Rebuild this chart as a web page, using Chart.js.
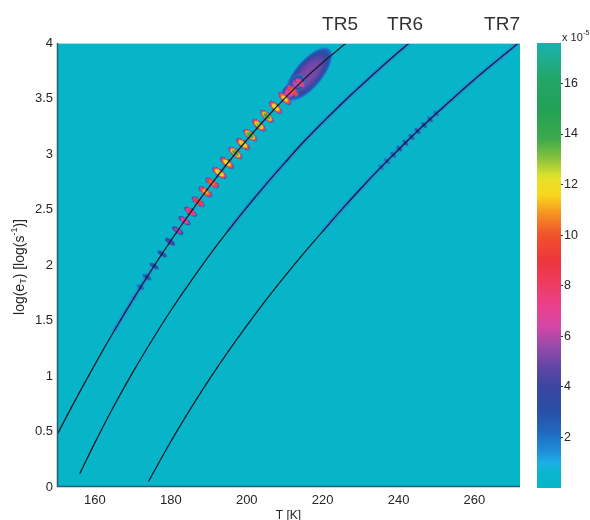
<!DOCTYPE html>
<html><head><meta charset="utf-8">
<script src="https://cdn.jsdelivr.net/npm/chart.js@4.4.1/dist/chart.umd.min.js"></script>
<style>
html,body{margin:0;padding:0;background:#fff;}
#wrap{position:relative;width:590px;height:520px;overflow:hidden;}
#main{position:absolute;left:0;top:0;}
#cbar{position:absolute;left:530px;top:0;}
</style></head><body>
<div id="wrap">
<canvas id="main" width="590" height="520"></canvas>
<canvas id="cbar" width="60" height="520"></canvas>
</div>
<script>
// ---------- data ----------
const xTicks = [160, 180, 200, 220, 240, 260];
const yTicks = [0, 0.5, 1, 1.5, 2, 2.5, 3, 3.5, 4];
const cbTicks = [2, 4, 6, 8, 10, 12, 14, 16];
const cbMax = 17.6;

const curveNames = ['TR5', 'TR6', 'TR7'];
const tr5T   = [150, 155, 160, 165, 170, 175, 180, 185, 190, 195, 200, 205, 210, 215, 220, 225.8, 227];
const tr5Log = [0.47, 0.794, 1.105, 1.403, 1.688, 1.961, 2.220, 2.466, 2.699, 2.919, 3.126, 3.320, 3.501, 3.670, 3.825, 3.988, 4.02];
const tr6T   = [156, 160, 165, 170, 175, 180, 185, 190, 195, 200, 205, 210, 215, 220, 225, 230, 235, 240, 243];
const tr6Log = [0.12, 0.40, 0.73, 1.035, 1.32, 1.59, 1.84, 2.08, 2.305, 2.519, 2.724, 2.92, 3.11, 3.285, 3.453, 3.613, 3.768, 3.918, 4.005];
const tr7T   = [174.1, 180, 185, 190, 195, 200, 205, 210, 215, 220, 225, 230, 235, 240, 245, 250, 255, 260, 265, 270, 272.5];
const tr7Log = [0.05, 0.41, 0.695, 0.963, 1.215, 1.454, 1.682, 1.898, 2.105, 2.303, 2.499, 2.687, 2.868, 3.041, 3.207, 3.367, 3.521, 3.671, 3.815, 3.956, 4.025];

// signal peaks along TR5 (value in units of 1e-5)
const hotT   = [170.2, 172.0, 173.7, 175.6, 177.7, 179.8, 181.8, 183.6, 185.2, 187.2, 189.1, 190.9, 192.8, 194.8, 197.0, 199.0, 200.9, 203.2, 205.3, 207.6, 210.0, 212.1, 214.1];
const hotLog = [1.70, 1.80, 1.89, 1.99, 2.10, 2.21, 2.31, 2.40, 2.48, 2.57, 2.66, 2.74, 2.83, 2.92, 3.01, 3.09, 3.17, 3.26, 3.34, 3.42, 3.50, 3.57, 3.64];
const hotVal = [1.6, 2.4, 3.0, 3.2, 3.6, 4.6, 6.0, 7.2, 8.6, 9.6, 11.2, 10.6, 12.8, 12.2, 14.0, 12.8, 14.2, 13.2, 14.2, 12.4, 11.8, 10.2, 8.0];
// broad plume at the top of TR5
const plumeT = [216.3];
const plumeLog = [3.72];
const plumeVal = [5.2];
const plumeCoreT = [211.4, 213.2];
const plumeCoreLog = [3.56, 3.64];
const plumeCoreVal = [7.5, 6.4];
// weak peaks along TR7 and TR6
const tr7bT   = [235.4, 237.0, 238.6, 240.2, 241.8, 243.4, 245.0, 246.7, 248.3, 249.9];
const tr7bLog = [2.882, 2.937, 2.993, 3.048, 3.101, 3.154, 3.207, 3.261, 3.312, 3.364];
const tr7bVal = [2.4, 2.8, 3.0, 3.2, 3.4, 3.4, 3.4, 3.2, 3.0, 2.6];
const tr6bT   = [221.8, 224.5];
const tr6bLog = [3.345, 3.436];
const tr6bVal = [1.8, 2.0];

// ---------- colour map ----------
const cmapStops = [
  [0.0, [8, 180, 200]], [0.7, [12, 182, 206]], [1.0, [30, 174, 232]], [1.5, [30, 140, 215]],
  [2.2, [32, 105, 190]], [3.0, [40, 80, 168]], [4.0, [58, 70, 160]], [4.8, [98, 70, 166]],
  [5.6, [150, 74, 170]], [6.4, [212, 70, 166]], [7.2, [234, 64, 140]], [8.0, [238, 60, 100]],
  [9.0, [238, 54, 60]], [10.0, [240, 82, 45]], [10.8, [245, 142, 35]], [11.6, [248, 215, 30]],
  [12.3, [226, 228, 42]], [13.0, [140, 195, 60]], [13.8, [62, 170, 76]], [15.0, [34, 160, 86]],
  [16.2, [34, 166, 104]], [17.6, [26, 178, 176]]
];
function cmap(v) {
  if (v <= cmapStops[0][0]) return cmapStops[0][1];
  for (let i = 1; i < cmapStops.length; i++) {
    const [v1, c1] = cmapStops[i];
    if (v <= v1) {
      const [v0, c0] = cmapStops[i - 1];
      const f = (v - v0) / (v1 - v0);
      return c0.map((c, k) => Math.round(c + (c1[k] - c) * f));
    }
  }
  return cmapStops[cmapStops.length - 1][1];
}
const rgba = (c, a) => `rgba(${c[0]},${c[1]},${c[2]},${a})`;

// peak image: value falls as v*(1-(r/R)^p), long axis horizontal
function makeBlob(v, RL, RS, p) {
  const W = Math.ceil(RL * 2) + 2, H = Math.ceil(RS * 2) + 2;
  const c = document.createElement('canvas');
  c.width = W; c.height = H;
  const g = c.getContext('2d');
  g.translate(W / 2, H / 2);
  g.scale(1, RS / RL);
  const grad = g.createRadialGradient(0, 0, 0, 0, 0, RL);
  const N = 48, thr = 0.75;
  for (let j = 0; j <= N; j++) {
    const t = j / N;
    const val = v * Math.max(0, 1 - Math.pow(t, p));
    const a = val >= 1.6 ? 1 : Math.max(0, (val - thr) / (1.6 - thr));
    grad.addColorStop(t, rgba(cmap(Math.max(val, 0)), a));
  }
  g.fillStyle = grad;
  g.beginPath(); g.arc(0, 0, RL, 0, Math.PI * 2); g.fill();
  return c;
}
const dashImg = v => {
  const f = Math.min(v, 12) / 12;
  return makeBlob(v, 5.5 + 3.5 * f, 2.4 + 1.4 * f, 3.5);
};

const pts = (xs, ys) => xs.map((x, i) => ({ x: x, y: ys[i] }));
function perpRotation(xs, ys) {
  return (ctx) => {
    const ch = ctx.chart, i = ctx.dataIndex, n = xs.length;
    const a = Math.max(0, i - 1), b = Math.min(n - 1, i + 1);
    const sx = ch.scales.x, sy = ch.scales.y;
    const dx = sx.getPixelForValue(xs[b]) - sx.getPixelForValue(xs[a]);
    const dy = sy.getPixelForValue(ys[b]) - sy.getPixelForValue(ys[a]);
    return Math.atan2(dy, dx) * 180 / Math.PI + 90;
  };
}

const hotImgs = hotVal.map(dashImg);
const plumeImgs = plumeVal.map(v => makeBlob(v, 36, 15, 3.5));
const plumeCoreImgs = plumeCoreVal.map(v => makeBlob(v, 10, 8, 2.5));
const tr7bImgs = tr7bVal.map(v => makeBlob(v, 5, 2.5, 2.5));
const tr6bImgs = tr6bVal.map(v => makeBlob(v, 4.4, 2.2, 2));

const haloColor = rgba(cmap(1.4), 0.95);
const halo = (xs, ys, lo, hi) => pts(xs, ys).filter(p => p.y >= lo && p.y <= hi);

const FONT = "'Liberation Sans', Arial, sans-serif";
const TXT = '#262626';

const lineDs = (xs, ys, name) => ({
  label: name, data: pts(xs, ys), showLine: true, pointRadius: 0,
  borderColor: '#0e1e30', borderWidth: 1.3, tension: 0.4,
  order: 1, clip: 0
});
const haloDs = (data) => ({
  data: data, showLine: true, pointRadius: 0, borderColor: haloColor, borderWidth: 4.5,
  tension: 0.4, order: 6, clip: 0
});
const blobDs = (xs, ys, imgs, rot, order) => ({
  data: pts(xs, ys), showLine: false, pointRadius: 3, pointHoverRadius: 3,
  pointStyle: (ctx) => imgs[ctx.dataIndex], rotation: rot,
  borderWidth: 0, order: order, clip: 0
});

const mainDecor = {
  id: 'mainDecor',
  beforeDatasetsDraw(chart) {
    const { ctx, chartArea: a } = chart;
    ctx.save();
    ctx.fillStyle = rgba(cmap(0), 1);
    ctx.fillRect(a.left, a.top, a.right - a.left, a.bottom - a.top);
    ctx.restore();
  },
  afterDatasetsDraw(chart) {
    const { ctx, chartArea: a } = chart;
    ctx.save();
    ctx.strokeStyle = 'rgba(200,240,245,0.8)';
    ctx.lineWidth = 1;
    ctx.beginPath();
    ctx.moveTo(a.left, a.top + 0.5); ctx.lineTo(a.right, a.top + 0.5);
    ctx.stroke();
    ctx.strokeStyle = '#2c5c68';
    ctx.lineWidth = 1.5;
    ctx.beginPath();
    ctx.moveTo(a.left + 0.5, a.top); ctx.lineTo(a.left + 0.5, a.bottom - 0.5); ctx.lineTo(a.right, a.bottom - 0.5);
    ctx.stroke();
    ctx.restore();
  },
  afterDraw(chart) {
    const { ctx, chartArea: a } = chart;
    ctx.save();
    ctx.fillStyle = '#333';
    ctx.font = `19px ${FONT}`;
    ctx.textAlign = 'center';
    ctx.textBaseline = 'alphabetic';
    const namePx = [340, 405, 502];
    curveNames.forEach((n, i) => ctx.fillText(n, namePx[i], 30));
    ctx.fillStyle = TXT;
    ctx.font = `12px ${FONT}`;
    ctx.fillText('T [K]', (a.left + a.right) / 2, 519);
    ctx.translate(20, 267);
    ctx.rotate(-Math.PI / 2);
    const parts = [
      ['log(e', 14, 0], ['T', 9, 3.5], [') [log(s', 14, 0], ['-1', 9, -5.5], [')]', 14, 0]
    ];
    let w = 0;
    parts.forEach(p => { ctx.font = `${p[1]}px ${FONT}`; w += ctx.measureText(p[0]).width; });
    let x = -w / 2;
    ctx.textAlign = 'left';
    ctx.textBaseline = 'middle';
    parts.forEach(p => {
      ctx.font = `${p[1]}px ${FONT}`;
      ctx.fillText(p[0], x, p[2]);
      x += ctx.measureText(p[0]).width;
    });
    ctx.restore();
  }
};

new Chart(document.getElementById('main'), {
  type: 'scatter',
  data: {
    datasets: [
      lineDs(tr5T, tr5Log, 'TR5'),
      lineDs(tr6T, tr6Log, 'TR6'),
      lineDs(tr7T, tr7Log, 'TR7'),
      blobDs(hotT, hotLog, hotImgs, perpRotation(hotT, hotLog), 2),
      blobDs(tr7bT, tr7bLog, tr7bImgs, perpRotation(tr7bT, tr7bLog), 2),
      blobDs(tr6bT, tr6bLog, tr6bImgs, perpRotation(tr6bT, tr6bLog), 2),
      blobDs(plumeCoreT, plumeCoreLog, plumeCoreImgs, -50, 3),
      blobDs(plumeT, plumeLog, plumeImgs, -50, 4),
      haloDs(halo(tr5T, tr5Log, 1.35, 2.0)),
      haloDs(halo(tr6T, tr6Log, 2.2, 4.1)),
      haloDs(halo(tr7T, tr7Log, 2.2, 4.1))
    ]
  },
  options: {
    responsive: false, animation: false, events: [],
    layout: { padding: { left: 0, top: 43, right: 70, bottom: 0 } },
    plugins: { legend: { display: false }, tooltip: { enabled: false } },
    scales: {
      x: {
        type: 'linear', min: 150, max: 272,
        afterBuildTicks: ax => { ax.ticks = xTicks.map(v => ({ value: v })); },
        afterFit: ax => { ax.height = 33; },
        grid: { display: false, drawTicks: false, tickLength: 0 }, border: { display: false },
        ticks: { font: { family: FONT, size: 13 }, color: TXT, padding: 6, maxRotation: 0, callback: v => String(v) }
      },
      y: {
        type: 'linear', min: 0, max: 4,
        afterBuildTicks: ax => { ax.ticks = yTicks.map(v => ({ value: v })); },
        afterFit: ax => { ax.width = 57; },
        grid: { display: false, drawTicks: false, tickLength: 0 }, border: { display: false },
        ticks: { font: { family: FONT, size: 13 }, color: TXT, padding: 4, callback: v => String(v) }
      }
    }
  },
  plugins: [mainDecor]
});

// ---------- colour bar ----------
const cbDecor = {
  id: 'cbDecor',
  afterDraw(chart) {
    const { ctx } = chart;
    ctx.save();
    ctx.fillStyle = TXT;
    ctx.textBaseline = 'alphabetic';
    ctx.textAlign = 'left';
    ctx.font = `11px ${FONT}`;
    ctx.fillText('x 10', 32, 41);
    const w = ctx.measureText('x 10').width;
    ctx.font = `7px ${FONT}`;
    ctx.fillText('-5', 32 + w + 0.5, 35);
    ctx.restore();
  }
};
new Chart(document.getElementById('cbar'), {
  type: 'bar',
  data: {
    labels: ['c'],
    datasets: [{
      data: [[0, cbMax]],
      backgroundColor: (ctx) => {
        const ch = ctx.chart;
        if (!ch.chartArea) return rgba(cmap(0), 1);
        const y = ch.scales.y;
        const g = ch.ctx.createLinearGradient(0, y.getPixelForValue(0), 0, y.getPixelForValue(cbMax));
        for (let j = 0; j <= 88; j++) {
          const v = cbMax * j / 88;
          g.addColorStop(j / 88, rgba(cmap(v), 1));
        }
        return g;
      },
      borderWidth: 0, barPercentage: 1, categoryPercentage: 1
    }]
  },
  options: {
    responsive: false, animation: false, events: [],
    layout: { padding: { left: 7, top: 43, right: 0, bottom: 32 } },
    plugins: { legend: { display: false }, tooltip: { enabled: false } },
    scales: {
      x: { display: false },
      y: {
        position: 'right', min: 0, max: cbMax,
        afterBuildTicks: ax => { ax.ticks = cbTicks.map(v => ({ value: v })); },
        afterFit: ax => { ax.width = 29; },
        grid: { drawOnChartArea: false, drawTicks: true, tickLength: 2, color: '#333' },
        border: { display: false },
        ticks: { font: { family: FONT, size: 12.5 }, color: TXT, padding: 1, callback: v => String(v) }
      }
    }
  },
  plugins: [cbDecor]
});
</script>
</body></html>
